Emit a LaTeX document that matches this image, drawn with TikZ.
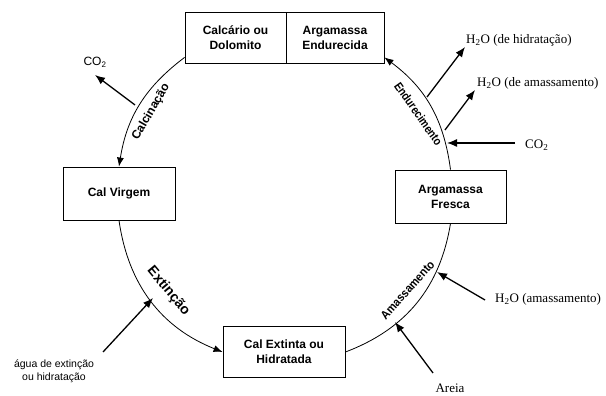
\documentclass[tikz,border=0pt]{standalone}
\usepackage{fontspec}
\setmainfont{Liberation Serif}
\setsansfont{Liberation Sans}
\usetikzlibrary{arrows.meta,calc}
\begin{document}
\begin{tikzpicture}[x=1pt,y=1pt,
  box/.style={draw, line width=0.9pt, inner sep=0pt, align=center,
    font=\sffamily\bfseries\fontsize{12}{15}\selectfont},
  cyc/.style={line width=0.8pt},
  cycarr/.style={cyc, -{Latex[length=9pt,width=7pt]}},
  side/.style={line width=1.3pt, -{Latex[length=10pt,width=8pt]}},
  lab/.style={font=\fontsize{13}{15}\selectfont, anchor=west, inner sep=0pt},
  arclab/.style={font=\sffamily\bfseries\fontsize{12}{14}\selectfont, inner sep=0pt}
]
\useasboundingbox[fill=white] (0,0) rectangle (606,396);

% boxes
\node[box, minimum width=101pt, minimum height=51pt] (calc) at (235.5,358.5) {Calcário ou\\Dolomito};
\node[box, minimum width=98pt, minimum height=51pt] (aend) at (335,358.5) {Argamassa\\Endurecida};
\node[box, minimum width=112pt, minimum height=53pt] (cv) at (119,202.5) {Cal Virgem};
\node[box, minimum width=122pt, minimum height=51pt] (ce) at (284,44) {Cal Extinta ou\\Hidratada};
\node[box, minimum width=111pt, minimum height=53pt] (af) at (450.5,199.5) {Argamassa\\Fresca};

% cycle arcs
\draw[cycarr] ($(calc.south west)+(0,6)$) to[bend right=22] (cv.north);
\draw[cycarr] (cv.south) to[bend right=30] (ce.west);
\draw[cyc] (ce.east) to[bend right=30] (af.south);
\draw[cycarr] (af.north) to[bend right=23] ($(aend.south east)+(0,6)$);

% arc labels
\node[arclab, rotate=60] (lcalc) at (151,284) {Calcinação};
\node[arclab, rotate=-50, font=\sffamily\bfseries\fontsize{14}{16}\selectfont] (lext) at (168.5,105) {Extinção};
\node[arclab, rotate=-55, xscale=0.85] (lend) at (418.5,282) {Endurecimento};
\node[arclab, rotate=48, xscale=0.9] (lama) at (407.5,106) {Amassamento};

% CO2 out of calcination
\node[inner sep=0pt, font=\sffamily\fontsize{12}{14}\selectfont] (co2a) at (95,334) {CO\textsubscript{2}};
\coordinate (s1) at (135,291); \coordinate (e1) at (95,321);
\draw[side] (s1) -- (e1);

% hardening
\node[lab] (h2oh) at (466,356) {H\textsubscript{2}O (de hidratação)};
\coordinate (s2) at (427,299); \coordinate (e2) at (465,349);
\draw[side] (s2) -- (e2);
\node[lab] (h2om) at (477,313) {H\textsubscript{2}O (de amassamento)};
\coordinate (s3) at (445,266); \coordinate (e3) at (475,306);
\draw[side] (s3) -- (e3);
\node[lab] (co2b) at (525,251) {CO\textsubscript{2}};
\coordinate (s4) at (515,253); \coordinate (e4) at (447,253);
\draw[side] (s4) -- (e4);

% mixing
\node[lab] (h2oa) at (495,97) {H\textsubscript{2}O (amassamento)};
\coordinate (s5) at (485,96); \coordinate (e5) at (437,124);
\draw[side] (s5) -- (e5);
\node[lab, anchor=center] (areia) at (450,8) {Areia};
\coordinate (s6) at (433,23); \coordinate (e6) at (395,74);
\draw[side] (s6) -- (e6);

% slaking
\node[inner sep=0pt, align=center, font=\sffamily\fontsize{10.5}{13}\selectfont] (agua) at (54,25) {água de extinção\\ou hidratação};
\coordinate (s7) at (103,44); \coordinate (e7) at (153,98);
\draw[side] (s7) -- (e7);
\end{tikzpicture}
\end{document}
